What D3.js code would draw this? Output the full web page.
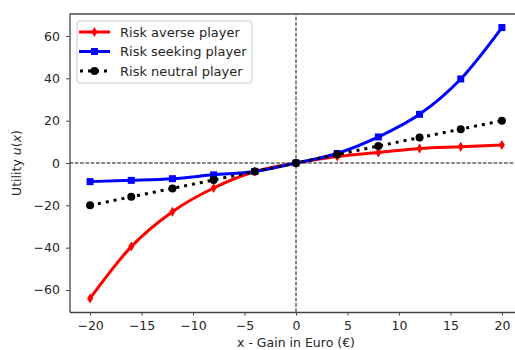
<!DOCTYPE html>
<html>
<head>
<meta charset="utf-8">
<script src="https://cdn.jsdelivr.net/npm/d3@7"></script>
<style>
  body { margin: 0; background: #fff; }
  svg { display: block; font-family: "DejaVu Sans", sans-serif; }
</style>
</head>
<body>
<div id="chart"></div>
<script>
// Data
const gains = [-20, -16, -12, -8, -4, 0, 4, 8, 12, 16, 20];
const averse = [-64, -39.5, -23, -11.8, -4, 0, 3.1, 5.0, 6.9, 7.7, 8.5];
const seeking = [-8.8, -8.2, -7.4, -5.6, -4, 0, 4.5, 12.3, 23, 39.7, 64];
const neutral = [-20, -16, -12, -8, -4, 0, 4, 8, 12, 16, 20];
const xTicks = [-20, -15, -10, -5, 0, 5, 10, 15, 20];
const yTicks = [-60, -40, -20, 0, 20, 40, 60];

const width = 515, height = 350;
const margin = { left: 69.5, top: 14, right: -7.5, bottom: 38 };
const fontSize = 12.5;

const svg = d3.select("#chart")
  .append("svg")
  .attr("width", width)
  .attr("height", height);

const x = d3.scaleLinear()
  .domain([-22, 22])
  .range([margin.left, width - margin.right]);

const y = d3.scaleLinear()
  .domain([-70.4, 70.4])
  .range([height - margin.bottom, margin.top]);

const textColor = "#262626";

// reference lines at zero
svg.append("line")
  .attr("x1", x(-22)).attr("x2", x(22))
  .attr("y1", y(0)).attr("y2", y(0))
  .attr("stroke", "#111").attr("stroke-width", 1)
  .attr("stroke-dasharray", "3.7,1.6");
svg.append("line")
  .attr("x1", x(0)).attr("x2", x(0))
  .attr("y1", y(-70.4)).attr("y2", y(70.4))
  .attr("stroke", "#111").attr("stroke-width", 1)
  .attr("stroke-dasharray", "3.7,1.6");

// series
const series = [
  { name: "Risk averse player", values: averse, color: "red", marker: "thin", dash: null },
  { name: "Risk seeking player", values: seeking, color: "blue", marker: "square", dash: null },
  { name: "Risk neutral player", values: neutral, color: "black", marker: "circle", dash: "3,5" }
];

const line = d3.line()
  .x(d => x(d[0]))
  .y(d => y(d[1]))
  .curve(d3.curveMonotoneX);

function drawMarker(g, type, color, cx, cy) {
  if (type === "square") {
    g.append("rect")
      .attr("x", cx - 3.5).attr("y", cy - 3.5)
      .attr("width", 7).attr("height", 7)
      .attr("fill", color);
  } else if (type === "circle") {
    g.append("circle")
      .attr("cx", cx).attr("cy", cy).attr("r", 4)
      .attr("fill", color);
  } else {
    g.append("path")
      .attr("d", `M${cx},${cy - 5}L${cx + 3},${cy}L${cx},${cy + 5}L${cx - 3},${cy}Z`)
      .attr("fill", color);
  }
}

const plot = svg.append("g");
series.forEach(s => {
  const pts = gains.map((g, i) => [g, s.values[i]]);
  plot.append("path")
    .datum(pts)
    .attr("d", line)
    .attr("fill", "none")
    .attr("stroke", s.color)
    .attr("stroke-width", 3)
    .attr("stroke-dasharray", s.dash);
  const mg = plot.append("g");
  pts.forEach(p => drawMarker(mg, s.marker, s.color, x(p[0]), y(p[1])));
});

// axes
const fmt = d => d < 0 ? "\u2212" + Math.abs(d) : d;
const xAxis = svg.append("g")
  .attr("transform", `translate(0,${y(-70.4)})`)
  .call(d3.axisBottom(x).tickValues(xTicks).tickSize(3.5).tickSizeOuter(0)
    .tickPadding(5.5).tickFormat(fmt));
const yAxis = svg.append("g")
  .attr("transform", `translate(${x(-22)},0)`)
  .call(d3.axisLeft(y).tickValues(yTicks).tickSize(3.5).tickSizeOuter(0)
    .tickPadding(6).tickFormat(fmt));

[xAxis, yAxis].forEach(a => {
  a.select(".domain").attr("stroke", "#444").attr("stroke-width", 1.3);
  a.selectAll(".tick line").attr("stroke", "#444").attr("stroke-width", 1);
  a.selectAll(".tick text").attr("fill", textColor).attr("font-size", fontSize)
    .attr("font-family", "DejaVu Sans, sans-serif");
});

// top spine
svg.append("line")
  .attr("x1", x(-22)).attr("x2", width)
  .attr("y1", y(70.4)).attr("y2", y(70.4))
  .attr("stroke", "#444").attr("stroke-width", 1.3);

// axis labels
svg.append("text")
  .attr("x", x(0)).attr("y", 347)
  .attr("text-anchor", "middle")
  .attr("font-size", fontSize).attr("fill", textColor)
  .text("x - Gain in Euro (\u20AC)");

const yl = svg.append("text")
  .attr("transform", `translate(21,${y(0)}) rotate(-90)`)
  .attr("text-anchor", "middle")
  .attr("font-size", fontSize).attr("fill", textColor);
yl.append("tspan").text("Utility ");
yl.append("tspan").attr("font-style", "italic").text("u");
yl.append("tspan").text("(");
yl.append("tspan").attr("font-style", "italic").text("x");
yl.append("tspan").text(")");

// legend
const lg = svg.append("g").attr("transform", "translate(77,21)");
lg.append("rect")
  .attr("width", 175).attr("height", 62)
  .attr("rx", 3)
  .attr("fill", "white").attr("fill-opacity", 0.85)
  .attr("stroke", "#ccc").attr("stroke-width", 1);
series.forEach((s, i) => {
  const cy = 11 + i * 19.5;
  lg.append("line")
    .attr("x1", 2).attr("x2", 33)
    .attr("y1", cy).attr("y2", cy)
    .attr("stroke", s.color)
    .attr("stroke-width", 3)
    .attr("stroke-dasharray", s.dash ? "3,5" : null)
    .attr("stroke-dashoffset", s.dash ? -1 : 0);
  drawMarker(lg, s.marker, s.color, 17.5, cy);
  lg.append("text")
    .attr("x", 43).attr("y", cy + 4.5)
    .attr("font-size", 13).attr("fill", textColor)
    .text(s.name);
});
</script>
</body>
</html>
